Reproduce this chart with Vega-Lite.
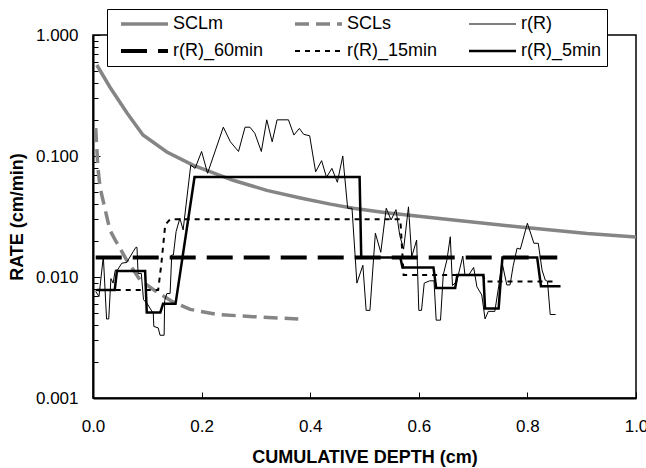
{
  "$schema": "https://vega.github.io/schema/vega-lite/v6.json",
  "width": 543,
  "height": 363,
  "autosize": {"type": "none"},
  "padding": {"left": 93, "top": 35, "right": 10, "bottom": 70},
  "background": "white",
  "data": {"values": [
    {"s":"SCLm","x":0.007,"y":0.565},{"s":"SCLm","x":0.031,"y":0.372},{"s":"SCLm","x":0.063,"y":0.226},{"s":"SCLm","x":0.092,"y":0.149},{"s":"SCLm","x":0.136,"y":0.108},{"s":"SCLm","x":0.184,"y":0.084},{"s":"SCLm","x":0.258,"y":0.063},{"s":"SCLm","x":0.32,"y":0.052},{"s":"SCLm","x":0.382,"y":0.045},{"s":"SCLm","x":0.437,"y":0.040},{"s":"SCLm","x":0.479,"y":0.037},{"s":"SCLm","x":0.54,"y":0.034},{"s":"SCLm","x":0.664,"y":0.0296},{"s":"SCLm","x":0.787,"y":0.0259},{"s":"SCLm","x":0.91,"y":0.0229},{"s":"SCLm","x":1.0,"y":0.0214},
    {"s":"SCLs","x":0.005,"y":0.17},{"s":"SCLs","x":0.009,"y":0.08},{"s":"SCLs","x":0.013,"y":0.055},{"s":"SCLs","x":0.031,"y":0.0245},{"s":"SCLs","x":0.041,"y":0.0202},{"s":"SCLs","x":0.062,"y":0.0138},{"s":"SCLs","x":0.087,"y":0.0094},{"s":"SCLs","x":0.118,"y":0.0075},{"s":"SCLs","x":0.148,"y":0.0062},{"s":"SCLs","x":0.179,"y":0.0054},{"s":"SCLs","x":0.228,"y":0.0049},{"s":"SCLs","x":0.295,"y":0.0047},{"s":"SCLs","x":0.378,"y":0.0045},
    {"s":"r(R)","x":0.005,"y":0.0076},{"s":"r(R)","x":0.011,"y":0.0069},{"s":"r(R)","x":0.019,"y":0.0148},{"s":"r(R)","x":0.025,"y":0.0045},{"s":"r(R)","x":0.029,"y":0.0045},{"s":"r(R)","x":0.033,"y":0.0097},{"s":"r(R)","x":0.037,"y":0.0089},{"s":"r(R)","x":0.041,"y":0.0114},{"s":"r(R)","x":0.045,"y":0.0114},{"s":"r(R)","x":0.053,"y":0.0130},{"s":"r(R)","x":0.062,"y":0.0132},{"s":"r(R)","x":0.074,"y":0.0162},{"s":"r(R)","x":0.079,"y":0.0176},{"s":"r(R)","x":0.081,"y":0.0176},{"s":"r(R)","x":0.083,"y":0.0107},{"s":"r(R)","x":0.089,"y":0.0107},{"s":"r(R)","x":0.093,"y":0.0065},{"s":"r(R)","x":0.100,"y":0.0060},{"s":"r(R)","x":0.111,"y":0.0050},{"s":"r(R)","x":0.112,"y":0.0039},{"s":"r(R)","x":0.120,"y":0.0038},{"s":"r(R)","x":0.1235,"y":0.0033},{"s":"r(R)","x":0.131,"y":0.0033},{"s":"r(R)","x":0.132,"y":0.0064},{"s":"r(R)","x":0.136,"y":0.0073},{"s":"r(R)","x":0.142,"y":0.0073},{"s":"r(R)","x":0.145,"y":0.0152},{"s":"r(R)","x":0.148,"y":0.0152},{"s":"r(R)","x":0.153,"y":0.0237},{"s":"r(R)","x":0.160,"y":0.0306},{"s":"r(R)","x":0.166,"y":0.0245},{"s":"r(R)","x":0.180,"y":0.084},{"s":"r(R)","x":0.188,"y":0.079},{"s":"r(R)","x":0.200,"y":0.109},{"s":"r(R)","x":0.211,"y":0.072},{"s":"r(R)","x":0.240,"y":0.173},{"s":"r(R)","x":0.253,"y":0.131},{"s":"r(R)","x":0.268,"y":0.109},{"s":"r(R)","x":0.280,"y":0.173},{"s":"r(R)","x":0.289,"y":0.173},{"s":"r(R)","x":0.298,"y":0.154},{"s":"r(R)","x":0.310,"y":0.109},{"s":"r(R)","x":0.320,"y":0.199},{"s":"r(R)","x":0.330,"y":0.131},{"s":"r(R)","x":0.339,"y":0.199},{"s":"r(R)","x":0.360,"y":0.199},{"s":"r(R)","x":0.370,"y":0.149},{"s":"r(R)","x":0.380,"y":0.169},{"s":"r(R)","x":0.388,"y":0.151},{"s":"r(R)","x":0.399,"y":0.147},{"s":"r(R)","x":0.410,"y":0.074},{"s":"r(R)","x":0.421,"y":0.0915},{"s":"r(R)","x":0.430,"y":0.0667},{"s":"r(R)","x":0.440,"y":0.079},{"s":"r(R)","x":0.450,"y":0.0607},{"s":"r(R)","x":0.460,"y":0.100},{"s":"r(R)","x":0.469,"y":0.037},{"s":"r(R)","x":0.477,"y":0.037},{"s":"r(R)","x":0.486,"y":0.0089},{"s":"r(R)","x":0.491,"y":0.0104},{"s":"r(R)","x":0.497,"y":0.0125},{"s":"r(R)","x":0.503,"y":0.0053},{"s":"r(R)","x":0.510,"y":0.0053},{"s":"r(R)","x":0.520,"y":0.023},{"s":"r(R)","x":0.530,"y":0.016},{"s":"r(R)","x":0.540,"y":0.037},{"s":"r(R)","x":0.549,"y":0.0296},{"s":"r(R)","x":0.558,"y":0.036},{"s":"r(R)","x":0.565,"y":0.022},{"s":"r(R)","x":0.572,"y":0.017},{"s":"r(R)","x":0.581,"y":0.038},{"s":"r(R)","x":0.587,"y":0.0147},{"s":"r(R)","x":0.596,"y":0.0202},{"s":"r(R)","x":0.600,"y":0.0053},{"s":"r(R)","x":0.605,"y":0.0053},{"s":"r(R)","x":0.610,"y":0.0089},{"s":"r(R)","x":0.620,"y":0.0093},{"s":"r(R)","x":0.628,"y":0.0093},{"s":"r(R)","x":0.632,"y":0.0044},{"s":"r(R)","x":0.640,"y":0.0044},{"s":"r(R)","x":0.645,"y":0.0104},{"s":"r(R)","x":0.652,"y":0.014},{"s":"r(R)","x":0.658,"y":0.0215},{"s":"r(R)","x":0.662,"y":0.0085},{"s":"r(R)","x":0.670,"y":0.0092},{"s":"r(R)","x":0.681,"y":0.0149},{"s":"r(R)","x":0.685,"y":0.0104},{"s":"r(R)","x":0.692,"y":0.0104},{"s":"r(R)","x":0.701,"y":0.0120},{"s":"r(R)","x":0.707,"y":0.0083},{"s":"r(R)","x":0.716,"y":0.0071},{"s":"r(R)","x":0.722,"y":0.0045},{"s":"r(R)","x":0.728,"y":0.0052},{"s":"r(R)","x":0.740,"y":0.0052},{"s":"r(R)","x":0.747,"y":0.0083},{"s":"r(R)","x":0.753,"y":0.0134},{"s":"r(R)","x":0.762,"y":0.0086},{"s":"r(R)","x":0.768,"y":0.0086},{"s":"r(R)","x":0.774,"y":0.0125},{"s":"r(R)","x":0.781,"y":0.0173},{"s":"r(R)","x":0.787,"y":0.017},{"s":"r(R)","x":0.800,"y":0.0278},{"s":"r(R)","x":0.812,"y":0.019},{"s":"r(R)","x":0.820,"y":0.019},{"s":"r(R)","x":0.827,"y":0.0114},{"s":"r(R)","x":0.833,"y":0.0094},{"s":"r(R)","x":0.837,"y":0.0092},{"s":"r(R)","x":0.842,"y":0.0049},{"s":"r(R)","x":0.852,"y":0.0049},
    {"s":"r(R)_60min","x":0.005,"y":0.0145},{"s":"r(R)_60min","x":0.855,"y":0.0145},
    {"s":"r(R)_15min","x":0.005,"y":0.0078},{"s":"r(R)_15min","x":0.120,"y":0.0078},{"s":"r(R)_15min","x":0.126,"y":0.013},{"s":"r(R)_15min","x":0.133,"y":0.027},{"s":"r(R)_15min","x":0.142,"y":0.030},{"s":"r(R)_15min","x":0.566,"y":0.030},{"s":"r(R)_15min","x":0.572,"y":0.0104},{"s":"r(R)_15min","x":0.718,"y":0.0104},{"s":"r(R)_15min","x":0.722,"y":0.0092},{"s":"r(R)_15min","x":0.855,"y":0.0092},
    {"s":"r(R)_5min","x":0.007,"y":0.0078},{"s":"r(R)_5min","x":0.040,"y":0.0078},{"s":"r(R)_5min","x":0.044,"y":0.0112},{"s":"r(R)_5min","x":0.096,"y":0.0112},{"s":"r(R)_5min","x":0.099,"y":0.0051},{"s":"r(R)_5min","x":0.124,"y":0.0051},{"s":"r(R)_5min","x":0.129,"y":0.0060},{"s":"r(R)_5min","x":0.152,"y":0.0060},{"s":"r(R)_5min","x":0.187,"y":0.067},{"s":"r(R)_5min","x":0.491,"y":0.067},{"s":"r(R)_5min","x":0.494,"y":0.0145},{"s":"r(R)_5min","x":0.566,"y":0.0145},{"s":"r(R)_5min","x":0.570,"y":0.0120},{"s":"r(R)_5min","x":0.627,"y":0.0120},{"s":"r(R)_5min","x":0.632,"y":0.0081},{"s":"r(R)_5min","x":0.667,"y":0.0081},{"s":"r(R)_5min","x":0.671,"y":0.0104},{"s":"r(R)_5min","x":0.719,"y":0.0104},{"s":"r(R)_5min","x":0.722,"y":0.0055},{"s":"r(R)_5min","x":0.747,"y":0.0055},{"s":"r(R)_5min","x":0.754,"y":0.0145},{"s":"r(R)_5min","x":0.818,"y":0.0145},{"s":"r(R)_5min","x":0.825,"y":0.0084},{"s":"r(R)_5min","x":0.861,"y":0.0084}
  ]},
  "mark": {"type": "line", "clip": true},
  "encoding": {
    "x": {"field": "x", "type": "quantitative",
      "scale": {"domain": [0, 1], "nice": false, "zero": false},
      "axis": {"title": "CUMULATIVE DEPTH (cm)", "values": [0, 0.2, 0.4, 0.6, 0.8, 1.0], "format": ".1f",
        "tickSize": -6, "labelPadding": 26, "titlePadding": 14, "labelFlush": false, "labelBound": false, "labelOverlap": false}},
    "y": {"field": "y", "type": "quantitative",
      "scale": {"type": "log", "domain": [0.001, 1], "nice": false},
      "axis": {"title": "RATE (cm/min)",
        "values": [0.001,0.002,0.003,0.004,0.005,0.006,0.007,0.008,0.009,0.01,0.02,0.03,0.04,0.05,0.06,0.07,0.08,0.09,0.1,0.2,0.3,0.4,0.5,0.6,0.7,0.8,0.9,1],
        "labelExpr": "abs(log(datum.value)/LN10 - round(log(datum.value)/LN10)) < 0.001 ? format(datum.value, '.3f') : ''",
        "tickSize": {"condition": {"test": "abs(log(datum.value)/LN10 - round(log(datum.value)/LN10)) < 0.001", "value": -7}, "value": -5},
        "labelPadding": 22, "titlePadding": 9, "labelFlush": false, "labelBound": false, "labelOverlap": false}},
    "color": {"field": "s", "type": "ordinal",
      "scale": {"type": "ordinal", "domain": ["SCLm", "SCLs", "r(R)", "r(R)_60min", "r(R)_15min", "r(R)_5min"],
        "range": ["#858585", "#858585", "#000000", "#000000", "#000000", "#000000"]},
      "legend": {"title": null}},
    "strokeDash": {"field": "s", "type": "ordinal",
      "scale": {"type": "ordinal", "domain": ["SCLm", "SCLs", "r(R)", "r(R)_60min", "r(R)_15min", "r(R)_5min"],
        "range": [[1000, 0], [14, 7], [1000, 0], [26, 11], [5, 5], [1000, 0]]},
      "legend": {"title": null}},
    "strokeWidth": {"field": "s", "type": "ordinal",
      "scale": {"type": "ordinal", "domain": ["SCLm", "SCLs", "r(R)", "r(R)_60min", "r(R)_15min", "r(R)_5min"],
        "range": [3.5, 3.5, 1, 4, 2, 2.5]},
      "legend": {"title": null}}
  },
  "config": {
    "font": "Liberation Sans",
    "view": {"stroke": "black", "strokeWidth": 1.5},
    "axis": {"grid": false, "domainColor": "black", "domainWidth": 2, "tickColor": "black", "tickWidth": 1,
      "labelColor": "black", "titleColor": "black", "labelFontSize": 17, "titleFontSize": 18,
      "titleFontWeight": "bold", "labelFont": "Liberation Sans", "titleFont": "Liberation Sans"},
    "legend": {"orient": "none", "legendX": 14, "legendY": -26, "columns": 3, "direction": "horizontal",
      "columnPadding": 22, "rowPadding": 7, "clipHeight": 20,
      "padding": 5, "strokeColor": "black", "fillColor": "white", "symbolType": "stroke", "symbolSize": 2209, "symbolOffset": 7,
      "labelFontSize": 18, "labelFont": "Liberation Sans", "labelColor": "black", "labelOffset": 3, "labelLimit": 0, "gridAlign": "all"}
  }
}
